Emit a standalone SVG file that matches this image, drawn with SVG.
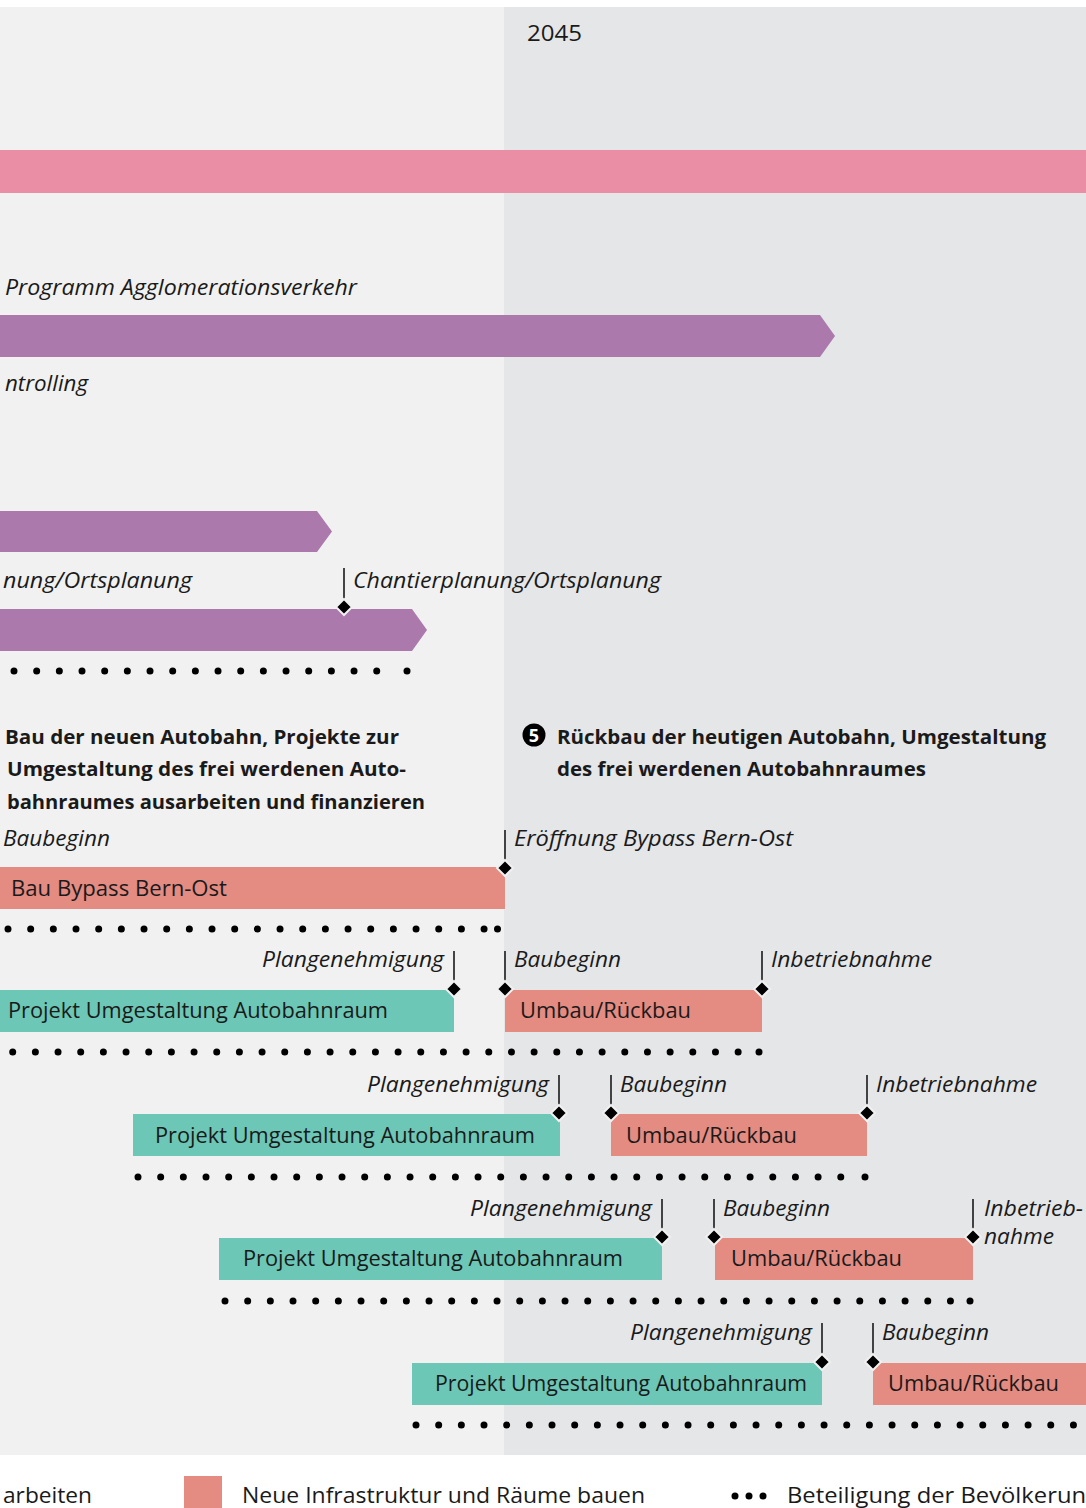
<svg xmlns="http://www.w3.org/2000/svg" width="1086" height="1508" viewBox="0 0 1086 1508">
<defs>
<style>
text{font-family:"Open Sans","Noto Sans","DejaVu Sans",sans-serif;fill:#1a1a1a}
.it{font-style:italic;font-size:21.5px}
.lb{font-size:21px}
.hd{font-weight:bold;font-size:20px}
.lg{font-size:22.5px}
.purple{fill:#ab79ac}
.salmon{fill:#e48b82}
.teal{fill:#6cc7b6}
.tick{stroke:#1a1a1a;stroke-width:1.6;fill:none}
.dia{fill:#000;stroke:#f1f1f1;stroke-width:2}
.dots{stroke:#000;stroke-width:7;stroke-linecap:round;stroke-dasharray:0 22.67;fill:none}
.dot{fill:#000}
</style>
</defs>
<rect x="0" y="0" width="1086" height="1508" fill="#ffffff"/>
<rect x="0" y="7" width="504" height="1448" fill="#f1f1f1"/>
<rect x="504" y="7" width="582" height="1448" fill="#e5e6e8"/>
<text x="527" y="41" style="font-size:21px" textLength="55" lengthAdjust="spacingAndGlyphs">2045</text>
<rect x="0" y="150" width="1086" height="43" fill="#e98ea4"/>

<g id="agglo">
<text class="it" x="5" y="295" textLength="352" lengthAdjust="spacingAndGlyphs">Programm Agglomerationsverkehr</text>
<polygon class="purple" points="0,315 820,315 835,336 820,357 0,357"/>
<text class="it" x="5" y="391" textLength="83" lengthAdjust="spacingAndGlyphs">ntrolling</text>
</g>

<g id="planung">
<polygon class="purple" points="0,511 317,511 332,531.5 317,552 0,552"/>
<text class="it" x="3" y="588" textLength="189" lengthAdjust="spacingAndGlyphs">nung/Ortsplanung</text>
<text class="it" x="353" y="588" textLength="308" lengthAdjust="spacingAndGlyphs">Chantierplanung/Ortsplanung</text>
<polygon class="purple" points="0,609 412,609 427,630 412,651 0,651"/>
</g>

<g id="heading4">
<text class="hd" x="5" y="744" textLength="394" lengthAdjust="spacingAndGlyphs">Bau der neuen Autobahn, Projekte zur</text>
<text class="hd" x="7" y="776" textLength="399" lengthAdjust="spacingAndGlyphs">Umgestaltung des frei werdenen Auto-</text>
<text class="hd" x="7" y="809" textLength="418" lengthAdjust="spacingAndGlyphs">bahnraumes ausarbeiten und finanzieren</text>
</g>

<g id="heading5">
<circle cx="534" cy="735" r="11.5" fill="#000"/>
<text x="534" y="742" text-anchor="middle" style="font-size:18px;font-weight:bold;fill:#fff">5</text>
<text class="hd" x="557" y="744" textLength="489" lengthAdjust="spacingAndGlyphs">Rückbau der heutigen Autobahn, Umgestaltung</text>
<text class="hd" x="557" y="776" textLength="369" lengthAdjust="spacingAndGlyphs">des frei werdenen Autobahnraumes</text>
</g>

<g id="bypass">
<text class="it" x="3" y="846" textLength="107" lengthAdjust="spacingAndGlyphs">Baubeginn</text>
<rect class="salmon" x="0" y="867" width="505" height="42"/>
<text class="lb" x="11" y="896" textLength="216" lengthAdjust="spacingAndGlyphs">Bau Bypass Bern-Ost</text>
<text class="it" x="514" y="846" textLength="279" lengthAdjust="spacingAndGlyphs">Eröffnung Bypass Bern-Ost</text>
</g>

<g id="projekt1">
<text class="it" x="262" y="967" textLength="182" lengthAdjust="spacingAndGlyphs">Plangenehmigung</text>
<rect class="teal" x="0" y="990" width="454" height="42"/>
<text class="lb" x="8" y="1018" textLength="380" lengthAdjust="spacingAndGlyphs">Projekt Umgestaltung Autobahnraum</text>
<text class="it" x="514" y="967" textLength="107" lengthAdjust="spacingAndGlyphs">Baubeginn</text>
<rect class="salmon" x="505" y="990" width="257" height="42"/>
<text class="lb" x="520" y="1018" textLength="171" lengthAdjust="spacingAndGlyphs">Umbau/Rückbau</text>
<text class="it" x="771" y="967" textLength="161" lengthAdjust="spacingAndGlyphs">Inbetriebnahme</text>
</g>

<g id="projekt2">
<text class="it" x="367" y="1092" textLength="182" lengthAdjust="spacingAndGlyphs">Plangenehmigung</text>
<rect class="teal" x="133" y="1114" width="427" height="42"/>
<text class="lb" x="155" y="1143" textLength="380" lengthAdjust="spacingAndGlyphs">Projekt Umgestaltung Autobahnraum</text>
<text class="it" x="620" y="1092" textLength="107" lengthAdjust="spacingAndGlyphs">Baubeginn</text>
<rect class="salmon" x="611" y="1114" width="256" height="42"/>
<text class="lb" x="626" y="1143" textLength="171" lengthAdjust="spacingAndGlyphs">Umbau/Rückbau</text>
<text class="it" x="876" y="1092" textLength="161" lengthAdjust="spacingAndGlyphs">Inbetriebnahme</text>
</g>

<g id="projekt3">
<text class="it" x="470" y="1216" textLength="182" lengthAdjust="spacingAndGlyphs">Plangenehmigung</text>
<rect class="teal" x="219" y="1238" width="443" height="42"/>
<text class="lb" x="243" y="1266" textLength="380" lengthAdjust="spacingAndGlyphs">Projekt Umgestaltung Autobahnraum</text>
<text class="it" x="723" y="1216" textLength="107" lengthAdjust="spacingAndGlyphs">Baubeginn</text>
<rect class="salmon" x="715" y="1238" width="258" height="42"/>
<text class="lb" x="731" y="1266" textLength="171" lengthAdjust="spacingAndGlyphs">Umbau/Rückbau</text>
<text class="it" x="984" y="1216" textLength="99" lengthAdjust="spacingAndGlyphs">Inbetrieb-</text>
<text class="it" x="984" y="1244" textLength="70" lengthAdjust="spacingAndGlyphs">nahme</text>
</g>

<g id="projekt4">
<text class="it" x="630" y="1340" textLength="182" lengthAdjust="spacingAndGlyphs">Plangenehmigung</text>
<rect class="teal" x="412" y="1363" width="410" height="42"/>
<text class="lb" x="435" y="1391" textLength="372" lengthAdjust="spacingAndGlyphs">Projekt Umgestaltung Autobahnraum</text>
<text class="it" x="882" y="1340" textLength="107" lengthAdjust="spacingAndGlyphs">Baubeginn</text>
<rect class="salmon" x="873" y="1363" width="213" height="42"/>
<text class="lb" x="888" y="1391" textLength="171" lengthAdjust="spacingAndGlyphs">Umbau/Rückbau</text>
</g>

<g id="connectors">
<line class="tick" x1="344" y1="568" x2="344" y2="602"/>
<polygon class="dia" points="344,599 352,607 344,615 336,607"/>
<line class="tick" x1="505" y1="830" x2="505" y2="863"/>
<polygon class="dia" points="505,860 513,868 505,876 497,868"/>
<line class="tick" x1="454" y1="951" x2="454" y2="984"/>
<polygon class="dia" points="454,981 462,989 454,997 446,989"/>
<line class="tick" x1="505" y1="951" x2="505" y2="984"/>
<polygon class="dia" points="505,981 513,989 505,997 497,989"/>
<line class="tick" x1="762" y1="951" x2="762" y2="984"/>
<polygon class="dia" points="762,981 770,989 762,997 754,989"/>
<line class="tick" x1="559" y1="1075" x2="559" y2="1108"/>
<polygon class="dia" points="559,1105 567,1113 559,1121 551,1113"/>
<line class="tick" x1="611" y1="1075" x2="611" y2="1108"/>
<polygon class="dia" points="611,1105 619,1113 611,1121 603,1113"/>
<line class="tick" x1="867" y1="1075" x2="867" y2="1108"/>
<polygon class="dia" points="867,1105 875,1113 867,1121 859,1113"/>
<line class="tick" x1="662" y1="1199" x2="662" y2="1232"/>
<polygon class="dia" points="662,1229 670,1237 662,1245 654,1237"/>
<line class="tick" x1="714" y1="1199" x2="714" y2="1232"/>
<polygon class="dia" points="714,1229 722,1237 714,1245 706,1237"/>
<line class="tick" x1="973" y1="1199" x2="973" y2="1232"/>
<polygon class="dia" points="973,1229 981,1237 973,1245 965,1237"/>
<line class="tick" x1="822" y1="1323" x2="822" y2="1356"/>
<polygon class="dia" points="822,1354 830,1362 822,1370 814,1362"/>
<line class="tick" x1="873" y1="1323" x2="873" y2="1356"/>
<polygon class="dia" points="873,1354 881,1362 873,1370 865,1362"/>
</g>

<g id="participation">
<line class="dots" x1="14" y1="671" x2="386" y2="671"/>
<circle class="dot" cx="407" cy="671" r="3.5"/>
<line class="dots" x1="8" y1="929" x2="485" y2="929"/>
<circle class="dot" cx="497.5" cy="929" r="3.5"/>
<line class="dots" x1="12.7" y1="1052" x2="745" y2="1052"/>
<circle class="dot" cx="759" cy="1052" r="3.5"/>
<line class="dots" x1="138" y1="1177" x2="852" y2="1177"/>
<circle class="dot" cx="865" cy="1177" r="3.5"/>
<line class="dots" x1="225" y1="1301" x2="958" y2="1301"/>
<circle class="dot" cx="970" cy="1301" r="3.5"/>
<line class="dots" x1="416" y1="1425" x2="1090" y2="1425"/>
</g>

<g id="legend">
<text class="lg" x="3" y="1503" textLength="89" lengthAdjust="spacingAndGlyphs">arbeiten</text>
<rect class="salmon" x="184" y="1476" width="38" height="32"/>
<text class="lg" x="242" y="1503" textLength="403" lengthAdjust="spacingAndGlyphs">Neue Infrastruktur und Räume bauen</text>
<circle class="dot" cx="735" cy="1496" r="3.5"/>
<circle class="dot" cx="749" cy="1496" r="3.5"/>
<circle class="dot" cx="763" cy="1496" r="3.5"/>
<text class="lg" x="787" y="1503" textLength="312" lengthAdjust="spacingAndGlyphs">Beteiligung der Bevölkerung</text>
</g>
</svg>
